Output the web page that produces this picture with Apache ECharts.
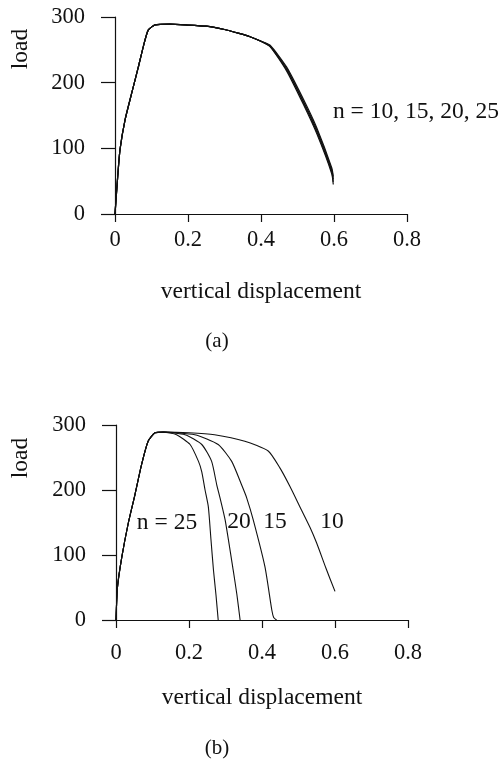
<!DOCTYPE html>
<html>
<head>
<meta charset="utf-8">
<script src="https://cdn.jsdelivr.net/npm/echarts@6/dist/echarts.min.js"></script>
<style>
  html, body { margin: 0; padding: 0; background: #fff; }
  #main { width: 503px; height: 760px; }
</style>
</head>
<body>
<div id="main"></div>
<script>
// x axis ticks and y axis ticks (shared by both panels)
var xTicks = [0, 0.2, 0.4, 0.6, 0.8];
var yTicks = [0, 100, 200, 300];

// panel (a): all four n curves lie on top of each other, only the tail spreads a little
var dispA = [0, 0.0074, 0.0137, 0.0274, 0.0457, 0.064, 0.0776, 0.091, 0.11, 0.15, 0.192, 0.25, 0.3, 0.34, 0.37, 0.4, 0.425, 0.47, 0.516, 0.553, 0.594, 0.598];
var loadA10 = [0, 57, 98, 143, 184, 224, 255, 280, 288, 289, 288, 286, 281, 275, 270, 263, 255, 218, 167, 122, 61, 45];
var loadA15 = [0, 57, 98, 143, 184, 224, 255, 280, 288, 289, 288, 286, 281, 275, 270, 263, 255, 220, 170, 125, 64, 49];
var loadA20 = [0, 57, 98, 143, 184, 224, 255, 280, 288, 289, 288, 286, 281, 275, 270, 263, 256, 222, 172, 128, 67, 53];
var loadA25 = [0, 57, 98, 143, 184, 224, 255, 280, 288, 289, 288, 286, 281, 275, 270, 263, 257, 224, 175, 131, 70, 57];
var nLabelA = 'n = 10, 15, 20, 25';

// panel (b): common rising branch, then one falling branch per n
var riseDisp = [0, 0.004, 0.016, 0.034, 0.052, 0.07, 0.088, 0.107, 0.13];
var riseLoad = [0, 50, 97, 150, 193, 239, 275, 288, 289];
var dispB25 = [0.166, 0.203, 0.226, 0.235, 0.244, 0.253, 0.26, 0.267, 0.274, 0.28];
var loadB25 = [285, 270, 244, 228, 200, 174, 125, 77, 38, 0];
var dispB20 = [0.189, 0.235, 0.262, 0.276, 0.285, 0.299, 0.321, 0.331, 0.34];
var loadB20 = [285, 270, 244, 208, 188, 154, 77, 40, 0];
var dispB15 = [0.216, 0.28, 0.317, 0.344, 0.358, 0.376, 0.408, 0.427, 0.432, 0.44];
var loadB15 = [285, 270, 244, 208, 188, 154, 82, 15, 4, 0];
var dispB10 = [0.2, 0.27, 0.353, 0.417, 0.449, 0.477, 0.504, 0.532, 0.55, 0.575, 0.6];
var loadB10 = [288, 285, 275, 260, 234, 205, 174, 142, 118, 80, 44];
var nLabelsB = ['n = 25', '20', '15', '10'];

var FONT = '"Liberation Serif", "DejaVu Serif", serif';
var INK = '#111';

function pairs (xs, ys) {
  var res = [];
  for (var i = 0; i < xs.length; i++) {
    res.push([xs[i], ys[i]]);
  }
  return res;
}

function xAxisOf (grid, margin) {
  return {
    type: 'value', gridIndex: grid, min: xTicks[0], max: xTicks[xTicks.length - 1], interval: 0.2,
    name: 'vertical displacement', nameLocation: 'middle', nameGap: 66,
    nameTextStyle: { color: INK, fontFamily: FONT, fontSize: 23.5 },
    axisLine: { show: true, onZero: false, lineStyle: { color: INK, width: 1.2 } },
    axisTick: { show: true, inside: false, length: 8, lineStyle: { color: INK, width: 1.2 } },
    axisLabel: {
      color: INK, fontFamily: FONT, fontSize: 22.5, margin: margin,
      formatter: function (v) { return v === 0 ? '0' : v.toFixed(1); }
    },
    splitLine: { show: false }
  };
}

function yAxisOf (grid) {
  return {
    type: 'value', gridIndex: grid, min: yTicks[0], max: yTicks[yTicks.length - 1], interval: 100,
    axisLine: { show: true, onZero: false, lineStyle: { color: INK, width: 1.2 } },
    axisTick: { show: true, inside: false, length: 14, lineStyle: { color: INK, width: 1.2 } },
    axisLabel: { color: INK, fontFamily: FONT, fontSize: 22.5, margin: 30 },
    splitLine: { show: false }
  };
}

function curve (xi, yi, data, width) {
  return {
    type: 'line', xAxisIndex: xi, yAxisIndex: yi, data: data,
    showSymbol: false, symbol: 'none', smooth: 0.2, silent: true,
    lineStyle: { color: INK, width: width }
  };
}

function label (str, x, y, size, rot) {
  return {
    type: 'text', x: x, y: y, rotation: rot || 0,
    style: { text: str, fill: INK, font: size + 'px ' + FONT, textAlign: 'center', textVerticalAlign: 'middle' }
  };
}

var chart = echarts.init(document.getElementById('main'));
chart.setOption({
  backgroundColor: '#fff',
  animation: false,
  grid: [
    { left: 115, top: 17, width: 292, height: 197 },
    { left: 116, top: 425, width: 292, height: 195 }
  ],
  xAxis: [xAxisOf(0, 15), xAxisOf(1, 22)],
  yAxis: [yAxisOf(0), yAxisOf(1)],
  series: [
    curve(0, 0, pairs(dispA, loadA10), 1.2),
    curve(0, 0, pairs(dispA, loadA15), 1.2),
    curve(0, 0, pairs(dispA, loadA20), 1.2),
    curve(0, 0, pairs(dispA, loadA25), 1.2),
    curve(1, 1, pairs(riseDisp.concat(dispB25), riseLoad.concat(loadB25)), 1.1),
    curve(1, 1, pairs(riseDisp.concat(dispB20), riseLoad.concat(loadB20)), 1.1),
    curve(1, 1, pairs(riseDisp.concat(dispB15), riseLoad.concat(loadB15)), 1.1),
    curve(1, 1, pairs(riseDisp.concat(dispB10), riseLoad.concat(loadB10)), 1.1)
  ],
  graphic: [
    label('load', 21, 49, 23.5, Math.PI / 2),
    label('load', 21, 458, 23.5, Math.PI / 2),
    label(nLabelA, 416, 112, 23.5),
    label(nLabelsB[0], 167, 523, 23.5),
    label(nLabelsB[1], 239, 522, 23.5),
    label(nLabelsB[2], 275, 522, 23.5),
    label(nLabelsB[3], 332, 522, 23.5),
    label('(a)', 217, 341, 21),
    label('(b)', 217, 748, 21)
  ]
});
</script>
</body>
</html>
